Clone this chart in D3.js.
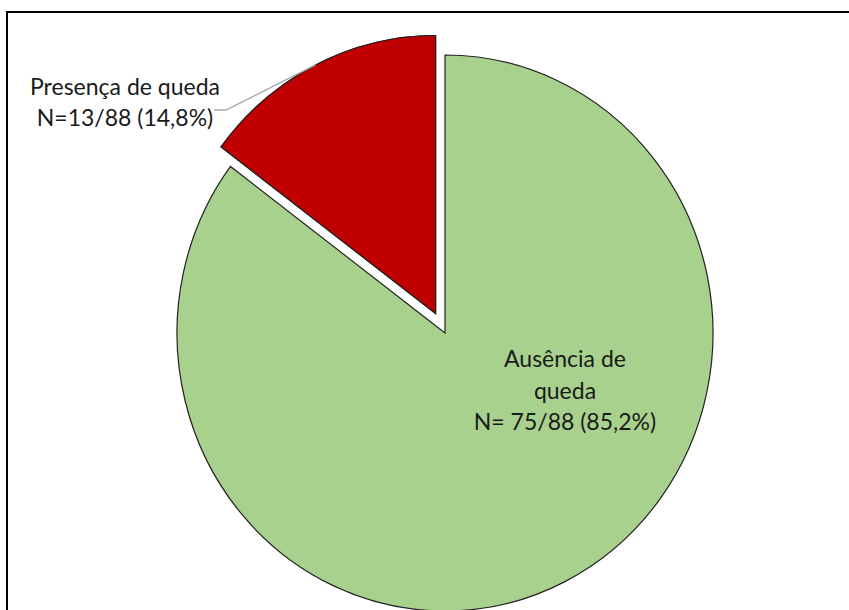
<!DOCTYPE html>
<html>
<head>
<meta charset="utf-8">
<script src="https://cdn.jsdelivr.net/npm/d3@7"></script>
<style>
  body { margin: 0; background: #fff; }
  svg { display: block; }
  text { font-family: Lato, "Open Sans", sans-serif; fill: #1a1a1a; }
</style>
</head>
<body>
<svg id="chart"></svg>
<script>
const categories = ["Ausência de queda", "Presença de queda"];
const counts = [75, 13];
const total = 88;
const labelLines = [
  ["Ausência de", "queda", "N= 75/88 (85,2%)"],
  ["Presença de queda", "N=13/88 (14,8%)"]
];
const colors = ["#a9d18e", "#c00000"];

const width = 849, height = 610;
const svg = d3.select("#chart").attr("width", width).attr("height", height);

// chart frame (runs off the right and bottom of the picture)
svg.append("rect")
  .attr("x", 7).attr("y", 12)
  .attr("width", 900).attr("height", 700)
  .attr("fill", "none").attr("stroke", "#000").attr("stroke-width", 2);

const cx = 445, cy = 333;
const rx = 268, ry = 278;
const explode = 21;

const data = categories.map((c, i) => ({ name: c, value: counts[i], lines: labelLines[i], color: colors[i] }));

const pie = d3.pie().sort(null).value(d => d.value);
const arcs = pie(data);
const arc = d3.arc().innerRadius(0).outerRadius(rx);

// pie is drawn slightly taller than wide, like the reference
const g = svg.append("g").attr("transform", `translate(${cx},${cy}) scale(1,${ry / rx})`);

g.selectAll("path.slice")
  .data(arcs)
  .join("path")
  .attr("class", "slice")
  .attr("d", arc)
  .attr("transform", d => {
    if (d.index !== 1) return null;
    const a = (d.startAngle + d.endAngle) / 2;
    return `translate(${Math.sin(a) * explode},${-Math.cos(a) * explode})`;
  })
  .attr("fill", d => d.data.color)
  .attr("stroke", "#222")
  .attr("stroke-width", 1.2)
  .attr("vector-effect", "non-scaling-stroke");

// label for the green slice, inside
const inside = svg.append("text")
  .attr("text-anchor", "middle")
  .style("font-size", "23px");
inside.selectAll("tspan")
  .data(data[0].lines)
  .join("tspan")
  .attr("x", 565)
  .attr("y", (d, i) => 367 + i * 31.5)
  .text(d => d);

// label for the red slice, outside with leader line to the arc middle
const red = arcs[1];
const midA = (red.startAngle + red.endAngle) / 2;
const ex = Math.sin(midA) * explode, ey = -Math.cos(midA) * explode * ry / rx;
const edgePt = [cx + ex + Math.sin(midA) * rx, cy + ey - Math.cos(midA) * ry];

svg.append("polyline")
  .attr("points", [[214, 110], [226, 110], edgePt].map(p => p.join(",")).join(" "))
  .attr("fill", "none")
  .attr("stroke", "#a6a6a6")
  .attr("stroke-width", 1.3);

// redraw the red slice on top so the leader stops at its edge
g.append("path")
  .datum(red)
  .attr("d", arc)
  .attr("transform", `translate(${Math.sin(midA) * explode},${-Math.cos(midA) * explode})`)
  .attr("fill", colors[1])
  .attr("stroke", "#222")
  .attr("stroke-width", 1.2)
  .attr("vector-effect", "non-scaling-stroke");

const outside = svg.append("text")
  .attr("text-anchor", "middle")
  .style("font-size", "23px");
outside.selectAll("tspan")
  .data(data[1].lines)
  .join("tspan")
  .attr("x", 125)
  .attr("y", (d, i) => 95 + i * 31)
  .text(d => d);
</script>
</body>
</html>
